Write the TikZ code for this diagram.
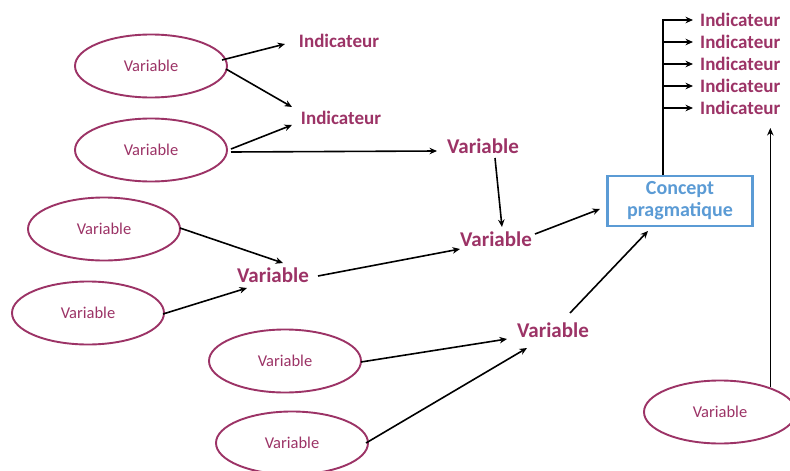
\documentclass[tikz,border=0pt]{standalone}
\usepackage{fontspec}
\setmainfont{Carlito}
\usetikzlibrary{arrows.meta,calc,shapes.geometric}
\definecolor{plum}{HTML}{9C3366}
\definecolor{boxblue}{HTML}{5B9BD5}
\begin{document}
\begin{tikzpicture}[x=1pt,y=-1pt,
  var/.style={ellipse, draw=plum, line width=1.9pt, minimum width=152pt, minimum height=63pt, inner sep=0pt, text=plum, font=\fontsize{16.5}{18}\selectfont},
  lab/.style={text=plum, font=\bfseries\fontsize{21}{24}\selectfont, inner sep=2pt},
  ind/.style={text=plum, font=\bfseries\fontsize{19}{22}\selectfont, inner sep=2pt},
  concept/.style={draw=boxblue, line width=2.7pt, minimum width=145pt, minimum height=50pt, text=boxblue, font=\bfseries\fontsize{20}{22}\selectfont, align=center, inner sep=0pt},
  arr/.style={-{Stealth[length=7.5pt,width=6.5pt]}, line width=1.6pt, black}]
\useasboundingbox (0,0) rectangle (790,471);
\fill[white] (0,0) rectangle (790,471);
% ellipses
\node[var] (e1) at (151,66) {Variable};
\node[var] (e2) at (151,150) {Variable};
\node[var] (e3) at (104,229) {Variable};
\node[var] (e4) at (88,313) {Variable};
\node[var] (e5) at (285,361) {Variable};
\node[var] (e6) at (292,443) {Variable};
\node[var] (e7) at (720,412) {Variable};
% labels
\node[ind] (i1) at (339,41) {Indicateur};
\node[ind] (i2) at (341,118) {Indicateur};
\node[lab] (va) at (483,146) {Variable};
\node[lab] (vb) at (496,239) {Variable};
\node[lab] (vc) at (273,275) {Variable};
\node[lab] (vd) at (553,330) {Variable};
\node[concept] (box) at (680,201) {Concept\\pragmatique};
% right indicators
\node[ind, anchor=west] (r1) at (698,20) {Indicateur};
\node[ind, anchor=west] (r2) at (698,42) {Indicateur};
\node[ind, anchor=west] (r3) at (698,64) {Indicateur};
\node[ind, anchor=west] (r4) at (698,86) {Indicateur};
\node[ind, anchor=west] (r5) at (698,108) {Indicateur};
\coordinate (tk) at (663,20);
\coordinate (up) at (769,128);
% connectors
\draw[arr] ($(e1)+(71,-6)$) -- ($(i1)+(-54,3)$);
\draw[arr] ($(e1)+(75,3)$) -- ($(i2)+(-49,-11)$);
\draw[arr] ($(e2)+(80,-1)$) -- ($(i2)+(-49,7)$);
\draw[arr] ($(e2)+(80,2)$) -- ($(va)+(-46,5)$);
\draw[arr] ($(va)+(12,12)$) -- ($(vb)+(6,-12)$);
\draw[arr] ($(vb)+(39,-5)$) -- ($(box)+(-80,8)$);
\draw[arr] ($(vc)+(45,1)$) -- ($(vb)+(-36,10)$);
\draw[arr] ($(e3)+(76,-1)$) -- ($(vc)+(10,-12)$);
\draw[arr] ($(e4)+(75,1)$) -- ($(vc)+(-26,13)$);
\draw[arr] ($(e5)+(76,1)$) -- ($(vd)+(-46,9)$);
\draw[arr] ($(e6)+(74,0)$) -- ($(vd)+(-26,18)$);
\draw[arr] ($(vd)+(17,-17)$) -- ($(box)+(-32,30)$);
% trunk to indicators
\draw[arr, shorten >=5pt] (box.north -| tk) -- (tk |- r1) -- (r1.west);
\foreach \k in {2,...,5}
  \draw[arr, shorten >=5pt] (tk |- r\k) -- (r\k.west);
\draw[arr] (e7.26) -- (e7.26 |- up);
\end{tikzpicture}
\end{document}
